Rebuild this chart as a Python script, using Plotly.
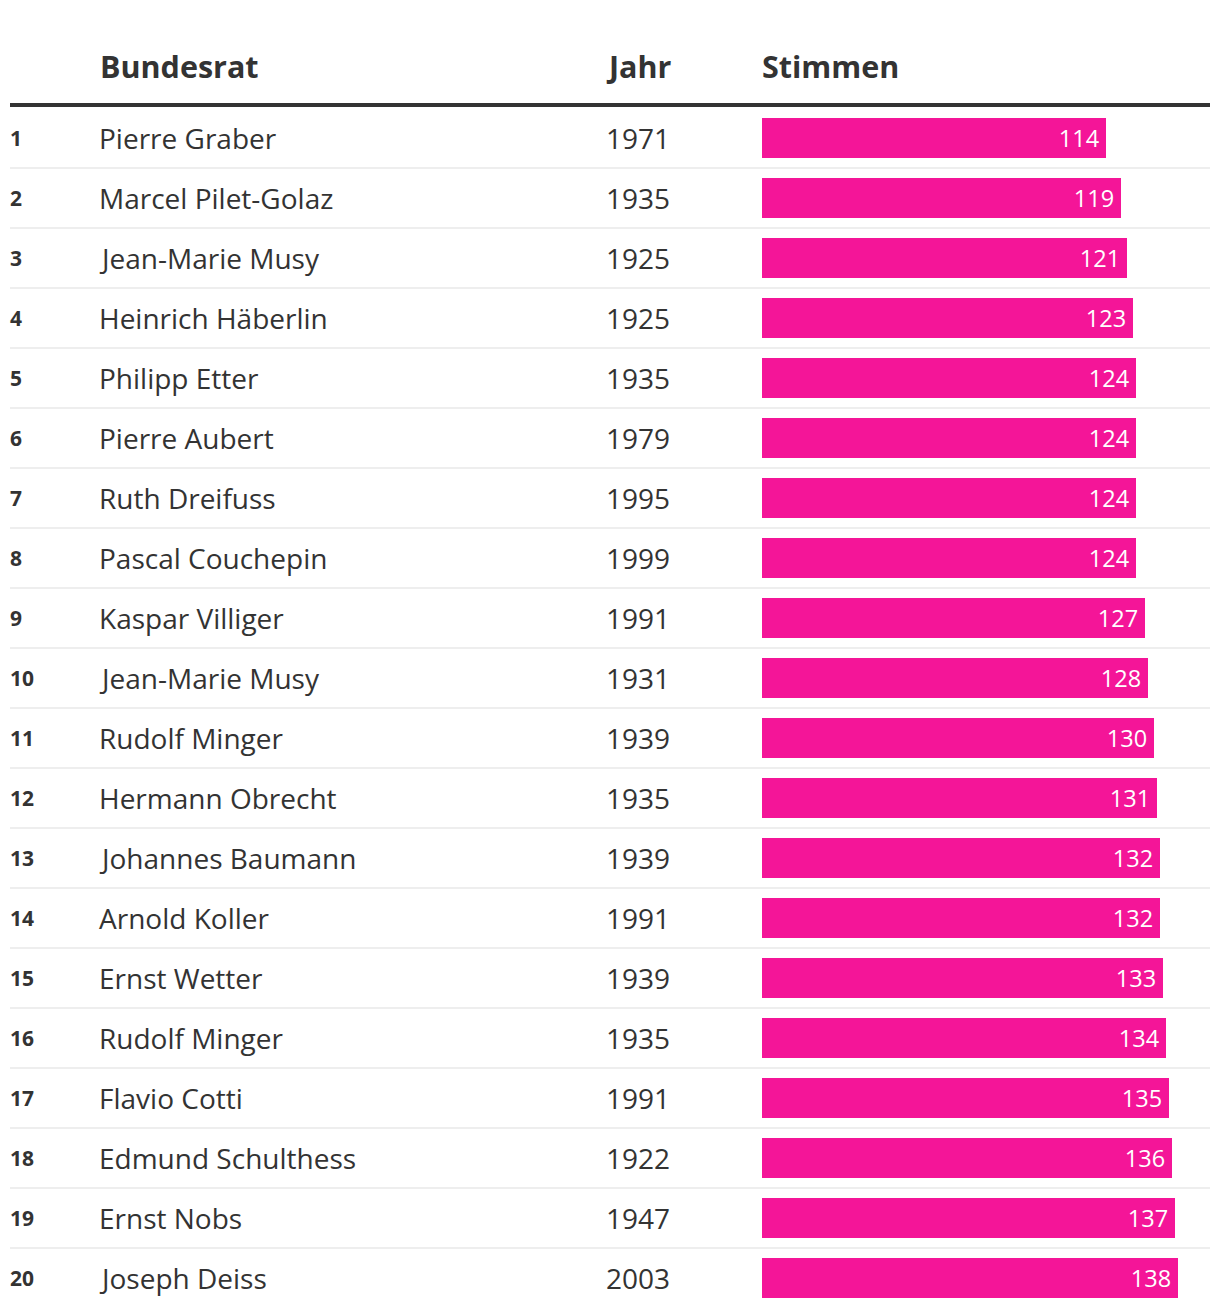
import plotly.graph_objects as go

ranks = list(range(1, 21))
names = ["Pierre Graber", "Marcel Pilet-Golaz", "Jean-Marie Musy", "Heinrich Häberlin",
         "Philipp Etter", "Pierre Aubert", "Ruth Dreifuss", "Pascal Couchepin",
         "Kaspar Villiger", "Jean-Marie Musy", "Rudolf Minger", "Hermann Obrecht",
         "Johannes Baumann", "Arnold Koller", "Ernst Wetter", "Rudolf Minger",
         "Flavio Cotti", "Edmund Schulthess", "Ernst Nobs", "Joseph Deiss"]
years = [1971, 1935, 1925, 1925, 1935, 1979, 1995, 1999, 1991, 1931,
         1939, 1935, 1939, 1991, 1939, 1935, 1991, 1922, 1947, 2003]
votes = [114, 119, 121, 123, 124, 124, 124, 124, 127, 128,
         130, 131, 132, 132, 133, 134, 135, 136, 137, 138]
headers = ["Bundesrat", "Jahr", "Stimmen"]

OFF = 8  # page body margin
W, H = 1204, 1300
FONT = "Open Sans"
DARK = "#333333"
PINK = "#F41598"


def px(x):
    return (x - OFF) / W


fig = go.Figure()
fig.add_trace(go.Bar(
    x=votes, y=ranks, orientation="h",
    marker=dict(color=PINK, line=dict(width=0)),
    width=0.667,
    texttemplate="%{x}\u2009",
    textposition="inside", insidetextanchor="end",
    textfont=dict(color="white", size=23.5, family=FONT),
    hoverinfo="skip",
))

ann = []
hx = [px(97.5), px(604), px(759.5)]
for h, x in zip(headers, hx):
    ann.append(dict(x=x, y=-0.2, xref="paper", yref="y", text=f"<b>{h}</b>",
                    showarrow=False, xanchor="left", yanchor="middle",
                    font=dict(size=30.5, color=DARK, family=FONT)))
for r, n, yr in zip(ranks, names, years):
    ann.append(dict(x=px(8), y=r, xref="paper", yref="y", text=f"<b>{r}</b>",
                    showarrow=False, xanchor="left", yanchor="middle",
                    font=dict(size=21, color=DARK, family=FONT)))
    ann.append(dict(x=px(97), y=r, xref="paper", yref="y", text=n,
                    showarrow=False, xanchor="left", yanchor="middle",
                    font=dict(size=28, color=DARK, family=FONT)))
    ann.append(dict(x=px(604), y=r, xref="paper", yref="y", text=str(yr),
                    showarrow=False, xanchor="left", yanchor="middle",
                    font=dict(size=28, color=DARK, family=FONT)))

shapes = [dict(type="line", xref="paper", yref="y", x0=px(10), x1=px(1210),
               y0=0.45, y1=0.45, line=dict(color=DARK, width=4))]
for r in ranks[:-1]:
    shapes.append(dict(type="line", xref="paper", yref="y", x0=px(10), x1=px(1210),
                       y0=r + 0.5, y1=r + 0.5, line=dict(color="#eeeeee", width=2),
                       layer="below"))

fig.update_layout(
    width=W, height=H,
    margin=dict(l=0, r=0, t=0, b=0),
    paper_bgcolor="white", plot_bgcolor="white",
    showlegend=False,
    xaxis=dict(domain=[px(762), px(1210)], range=[0, 148.5], visible=False, fixedrange=True),
    yaxis=dict(range=[20.5, -1.1667], visible=False, fixedrange=True),
    annotations=ann, shapes=shapes,
    bargap=0,
)

fig.write_html("out.html", config={"displayModeBar": False})
